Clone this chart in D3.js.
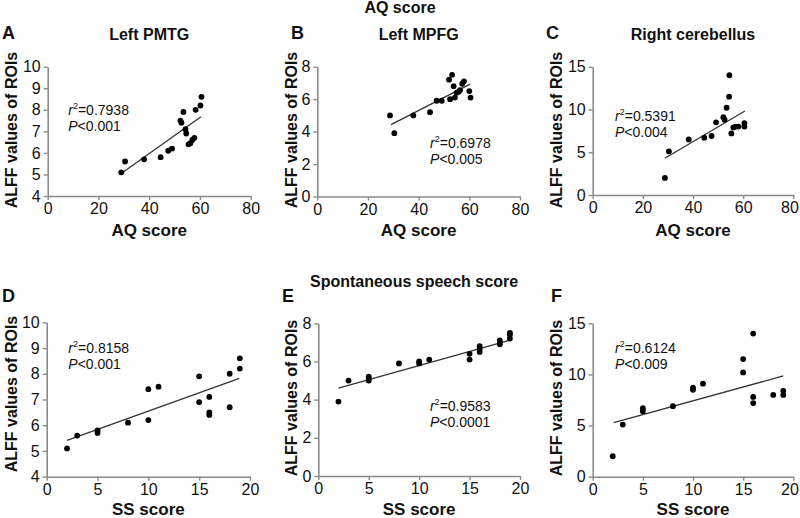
<!DOCTYPE html>
<html><head><meta charset="utf-8">
<script src="https://cdn.jsdelivr.net/npm/d3@7"></script>
<style>
body{margin:0;background:#fff}
svg{display:block}
text{font-family:"Liberation Sans",Arial,Helvetica,sans-serif;fill:#111}
</style>
</head><body>
<svg id="c" width="800" height="518"></svg>
<script>
// ---------- data ----------
const aqA   = [29,30.5,38,44.5,47.5,49,52.3,52.7,53.5,54.3,54.6,55.5,56.2,57,57.8,58.3,60.2,60.6];
const alffA = [5.1,5.6,5.7,5.8,6.1,6.2,7.5,7.4,7.9,7.1,6.9,6.4,6.45,6.6,6.7,8.0,8.2,8.6];
const fitA  = [[29.8,5.11],[60.4,7.68]];

const aqB   = [28.7,30.4,37.9,44.5,47.1,49.1,52,52.4,53.2,53.8,54.3,55,55.8,56.3,57.2,57.9,60,60.5];
const alffB = [5.0,3.9,5.0,5.2,5.9,5.9,7.2,6.0,7.5,6.8,6.1,6.4,6.45,6.55,6.95,7.1,6.5,6.1];
const fitB  = [[29.1,4.43],[60.3,6.93]];

const aqC   = [28.8,30.4,38.3,44.5,47.4,49.2,52.1,52.6,53.4,54.4,54.5,55.3,56.1,57,58.1,60.5,60.5];
const alffC = [2.0,5.1,6.5,6.7,6.9,8.5,9.1,8.8,10.2,11.5,14.0,7.2,7.9,8.0,8.0,8.4,8.0];
const fitC  = [[28.8,4.29],[60.7,9.82]];

const ssD   = [2,3,5,5,8,10,10,11,15,15,16,16,16,18,18,19,19];
const alffD = [5.1,5.6,5.8,5.7,6.1,6.2,7.4,7.5,7.9,6.9,7.1,6.5,6.4,8.0,6.7,8.6,8.2];
const fitD  = [[2.0,5.41],[18.95,7.82]];

const ssE   = [2,3,5,5,5,8,10,10,11,15,15,16,16,16,18,18,18,19,19,19];
const alffE = [3.9,5.0,5.2,5.1,5.0,5.9,6.0,5.9,6.1,6.4,6.1,6.8,6.65,6.5,7.1,7.0,6.9,7.5,7.4,7.2];
const fitE  = [[2.0,4.6],[18.85,7.09]];

const ssF   = [2,3,5,5,8,10,10,11,15,15,16,16,16,18,19,19];
const alffF = [2.0,5.1,6.7,6.4,6.9,8.7,8.5,9.1,11.5,10.2,14.0,7.8,7.2,8.0,8.4,8.0];
const fitF  = [[2.1,5.28],[19.0,9.85]];

const aqTicks = [0,20,40,60,80];
const ssTicks = [0,5,10,15,20];
const yTicksA = [4,5,6,7,8,9,10];
const yTicks8 = [0,2,4,6,8];
const yTicks15 = [0,5,10,15];

const letters = ["A","B","C","D","E","F"];
const titles = ["Left PMTG","Left MPFG","Right cerebellus","","",""];
const r2Values = ["0.7938","0.6978","0.5391","0.8158","0.9583","0.6124"];
const pValues = ["0.001","0.005","0.004","0.001","0.0001","0.009"];

// ---------- layout ----------
const panels = [
  {xs:aqA,ys:alffA,fit:fitA,xd:[0,80],yd:[4,10],xt:aqTicks,yt:yTicksA,xl:"AQ score",
   px:[47.7,250.7],py:[196,66.7],ann:[8.1,7.76],let:[2,39],ytc:[16.5,130],xlb:236},
  {xs:aqB,ys:alffB,fit:fitB,xd:[0,80],yd:[0,8],xt:aqTicks,yt:yTicks8,xl:"AQ score",
   px:[317.3,520],py:[196.5,66.7],ann:[44.5,3.02],let:[291,39],ytc:[297,130],xlb:236},
  {xs:aqC,ys:alffC,fit:fitC,xd:[0,80],yd:[0,15],xt:aqTicks,yt:yTicks15,xl:"AQ score",
   px:[592.7,793.3],py:[195,66.7],ann:[8.9,8.69],let:[546,39],ytc:[561.5,130],xlb:236},
  {xs:ssD,ys:alffD,fit:fitD,xd:[0,20],yd:[4,10],xt:ssTicks,yt:yTicksA,xl:"SS score",
   px:[46.7,250],py:[476.7,322.3],ann:[2.13,8.79],let:[2,302],ytc:[16.5,394],xlb:515},
  {xs:ssE,ys:alffE,fit:fitE,xd:[0,20],yd:[0,8],xt:ssTicks,yt:yTicks8,xl:"SS score",
   px:[318.3,520],py:[476,323.3],ann:[11.07,3.42],let:[282,302],ytc:[297,398],xlb:515},
  {xs:ssF,ys:alffF,fit:fitF,xd:[0,20],yd:[0,15],xt:ssTicks,yt:yTicks15,xl:"SS score",
   px:[592.7,793.3],py:[476.7,323.3],ann:[2.23,12.07],let:[551,302],ytc:[561.5,398],xlb:515}
];

const svg = d3.select("#c");

svg.append("text").attr("x",400).attr("y",13).attr("text-anchor","middle")
  .attr("font-size",16).attr("font-weight","bold").text("AQ score");
svg.append("text").attr("x",414).attr("y",287).attr("text-anchor","middle")
  .attr("font-size",16).attr("font-weight","bold").text("Spontaneous speech score");

panels.forEach((p,i)=>{
  const x = d3.scaleLinear().domain(p.xd).range(p.px);
  const y = d3.scaleLinear().domain(p.yd).range(p.py);
  const g = svg.append("g");
  const fmt = d3.format("d");

  const xa = g.append("g").attr("transform",`translate(0,${p.py[0]})`)
    .call(d3.axisBottom(x).tickValues(p.xt).tickFormat(fmt).tickSize(4).tickPadding(3).tickSizeOuter(0));
  const ya = g.append("g").attr("transform",`translate(${p.px[0]},0)`)
    .call(d3.axisLeft(y).tickValues(p.yt).tickFormat(fmt).tickSize(4).tickPadding(3).tickSizeOuter(0));
  [xa,ya].forEach(a=>{
    a.select(".domain").attr("stroke","#8a8a8a").attr("stroke-width",1.6);
    a.selectAll(".tick line").attr("stroke","#8a8a8a").attr("stroke-width",1.4);
    a.selectAll(".tick text").attr("font-size",16).attr("fill","#111")
      .attr("font-family","'Liberation Sans',Arial,sans-serif");
  });
  // keep the last x label inside the page
  xa.selectAll(".tick text").each(function(){
    const b = this.getBBox();
    const m = this.parentNode.transform.baseVal.consolidate().matrix.e;
    const over = m + b.x + b.width - 799;
    if (over > 0) d3.select(this).attr("dx", -over);
  });

  // regression line
  g.append("line")
    .attr("x1",x(p.fit[0][0])).attr("y1",y(p.fit[0][1]))
    .attr("x2",x(p.fit[1][0])).attr("y2",y(p.fit[1][1]))
    .attr("stroke","#333").attr("stroke-width",1.3);

  // points
  g.selectAll("circle").data(p.xs.map((v,k)=>[v,p.ys[k]])).join("circle")
    .attr("cx",d=>x(d[0])).attr("cy",d=>y(d[1])).attr("r",2.9).attr("fill","#000");

  // annotation
  const ax = x(p.ann[0]), ay = y(p.ann[1]);
  const t1 = g.append("text").attr("x",ax).attr("y",ay).attr("font-size",14);
  t1.append("tspan").attr("font-style","italic").text("r");
  t1.append("tspan").attr("font-size",9).attr("dy",-6).text("2");
  t1.append("tspan").attr("dy",6).text("="+r2Values[i]);
  const t2 = g.append("text").attr("x",ax).attr("y",ay+16).attr("font-size",14);
  t2.append("tspan").attr("font-style","italic").text("P");
  t2.append("tspan").text("<"+pValues[i]);

  // letter
  g.append("text").attr("x",p.let[0]).attr("y",p.let[1]).attr("font-size",18)
    .attr("font-weight","bold").text(letters[i]);
  // title
  if (titles[i]) g.append("text").attr("x",(p.px[0]+p.px[1])/2).attr("y",40)
    .attr("text-anchor","middle").attr("font-size",16).attr("font-weight","bold").text(titles[i]);
  // x title
  g.append("text").attr("x",(p.px[0]+p.px[1])/2).attr("y",p.xlb)
    .attr("text-anchor","middle").attr("font-size",17).attr("font-weight","bold").text(p.xl);
  // y title
  g.append("text").attr("transform",`translate(${p.ytc[0]},${p.ytc[1]}) rotate(-90)`)
    .attr("text-anchor","middle").attr("font-size",16).attr("font-weight","bold")
    .text("ALFF values of ROIs");
});
</script>
</body></html>
